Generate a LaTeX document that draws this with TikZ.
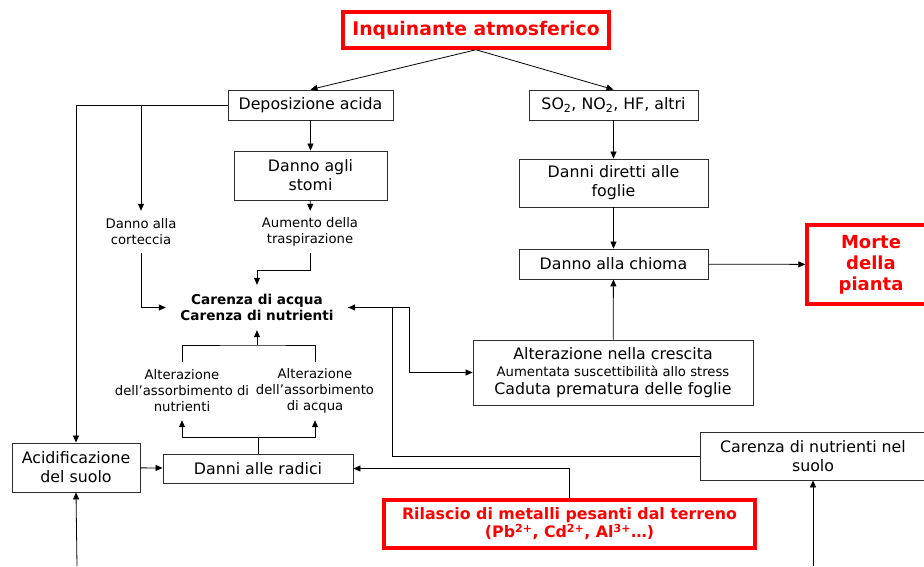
\documentclass[tikz,border=0pt]{standalone}
\usepackage{fontspec}
\setmainfont{DejaVu Sans}
\usetikzlibrary{arrows.meta, calc}
\definecolor{alarm}{RGB}{255,0,0}
\definecolor{frame}{RGB}{45,45,45}

\begin{document}
\begin{tikzpicture}[x=1pt, y=-1pt,
  box/.style={draw=frame, line width=0.9pt, inner sep=0pt, align=center,
    font=\fontsize{15.8}{19}\selectfont},
  alert/.style={draw=alarm, line width=3.5pt, inner sep=0pt, align=center,
    text=alarm, font=\bfseries\fontsize{18}{21}\selectfont},
  note/.style={inner sep=0pt, align=center, font=\fontsize{13.2}{16}\selectfont},
  link/.style={-{Triangle[length=7pt,width=6pt]}, line width=0.8pt},
  wire/.style={line width=0.8pt}]
  \useasboundingbox (0,0) rectangle (924,566);

  % Source and the two pathways
  \node[alert, minimum width=266, minimum height=36, font=\bfseries\fontsize{18.8}{22}\selectfont] (inq) at (476,30) {Inquinante atmosferico};
  \node[box, minimum width=165, minimum height=30] (dep) at (310.5,105) {Deposizione acida};
  \node[box, minimum width=169, minimum height=30] (so2) at (613.5,105) {SO\textsubscript{2}, NO\textsubscript{2}, HF, altri};

  % Acid deposition branch
  \node[box, minimum width=153, minimum height=49] (stomi) at (310.5,175.5) {Danno agli\\stomi};
  \node[note, minimum height=42] (cort) at (141,232) {Danno alla\\corteccia};
  \node[note, minimum height=42] (trasp) at (310,232) {Aumento della\\traspirazione};
  \node[note, minimum width=182, minimum height=45, font=\bfseries\fontsize{13.6}{16}\selectfont] (car) at (257,307.5) {Carenza di acqua\\Carenza di nutrienti};
  \node[note, minimum height=58] (altn) at (182,391) {Alterazione\\dell’assorbimento di\\nutrienti};
  \node[note, minimum height=58] (alta) at (315,391) {Alterazione\\dell’assorbimento\\di acqua};
  \node[box, minimum width=128, minimum height=49] (acid) at (76,467.5) {Acidificazione\\del suolo};
  \node[box, minimum width=190, minimum height=29] (rad) at (258,468.5) {Danni alle radici};

  % Direct branch
  \node[box, minimum width=189, minimum height=48] (foglie) at (613.5,183) {Danni diretti alle\\foglie};
  \node[box, minimum width=189, minimum height=30] (chioma) at (613.5,264) {Danno alla chioma};
  \node[alert, minimum width=128, minimum height=79] (morte) at (871,264.5) {Morte\\della\\pianta};
  \node[box, minimum width=280, minimum height=65, font=\fontsize{15.8}{17.5}\selectfont] (cresc) at (613,372.5)
    {Alterazione nella crescita\\{\fontsize{13.2}{15}\selectfont Aumentata suscettibilità allo stress}\\Caduta prematura delle foglie};
  \node[box, minimum width=226, minimum height=48] (suolo) at (813,456) {Carenza di nutrienti nel\\suolo};
  \node[alert, minimum width=371, minimum height=48, font=\bfseries\fontsize{15.8}{18}\selectfont] (ril) at (569.5,524)
    {Rilascio di metalli pesanti dal terreno\\(Pb\textsuperscript{2+}, Cd\textsuperscript{2+}, Al\textsuperscript{3+}…)};

  \coordinate (merge) at (257,345);
  \coordinate (fork) at (258,437);
  \coordinate (soilin) at (77,566);
  \coordinate (leachin) at (813,566);

  % Connectors
  \draw[link] (inq.south) -- (dep.north);
  \draw[link] (inq.south) -- (so2.north);
  \draw[link] (dep) -- (stomi);
  \draw[link] (dep.west) -| (cort.north);
  \draw[link] (dep.west) -| (acid.north);
  \draw[link] (stomi) -- (trasp);
  \draw[link] (cort.south) |- (car.west);
  \draw[link] (trasp.south) -- ++(0,17) -| (car.north);
  \draw[wire] (altn.north) |- (merge) -| (alta.north);
  \draw[link] (merge) -- (car.south);
  \draw[wire] (rad.north) -- (fork);
  \draw[link] (fork) -| (altn.south);
  \draw[link] (fork) -| (alta.south);
  \draw[link] (acid) -- (rad);
  \draw[link] (ril.north) |- (rad.east);
  \draw[link] (suolo.west) -- ++(-307,0) |- (car.east);
  \draw[link] (car.east) -- ++(61,0) |- (cresc.west);
  \draw[link] (so2) -- (foglie);
  \draw[link] (foglie) -- (chioma);
  \draw[link] (cresc) -- (chioma);
  \draw[link] (chioma) -- (morte);
  \draw[link] (soilin) -- (acid.south);
  \draw[link] (leachin) -- (suolo.south);
\end{tikzpicture}
\end{document}
